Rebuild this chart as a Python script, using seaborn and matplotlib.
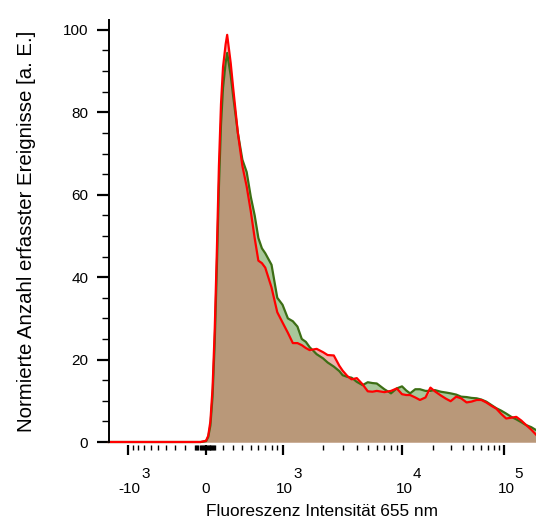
import numpy as np
import matplotlib
matplotlib.use("Agg")
import matplotlib.pyplot as plt
import matplotlib.ticker as mticker
from matplotlib.transforms import ScaledTranslation, blended_transform_factory, offset_copy
import seaborn as sns

# ---------------- data ----------------
intensity = [-3800, -2000, -1000, -500, -200, -100, -50, 0, 25, 50, 75, 100, 125, 150, 175,
             200, 225, 240, 275, 300, 350, 400, 450, 500, 550, 600, 650, 700, 800, 900,
             1000, 1100, 1200, 1300, 1400, 1500, 1600, 1800, 2000, 2200, 2500, 2800, 3000,
             3300, 3600, 4000, 4500, 5000, 5500, 6000, 7000, 8000, 9000, 10000, 11000,
             12000, 13500, 15000, 17000, 19000, 21000, 24000, 27000, 30000, 34000, 38000,
             43000, 48000, 54000, 60000, 67000, 75000, 84000, 94000, 105000, 118000,
             132000, 148000, 165000, 185000, 206000]

red_counts = [0, 0, 0, 0, 0, 0, 0, 0.3, 1.5, 5, 13, 27, 46, 67, 82,
              91, 96.5, 98.8, 92, 86, 75, 67, 62, 56, 49.5, 44, 43.4, 42.3, 37.5, 31.5,
              29, 26.5, 24, 24, 23.5, 22.8, 22.3, 22.6, 21.8, 21.1, 21, 18.5, 17.3,
              16, 15.2, 15.5, 14, 12.3, 12.2, 12.4, 12.1, 12.4, 13, 11.6, 11.4,
              11.4, 10.8, 10.2, 10.8, 13.2, 12.3, 11.3, 10.5, 9.9, 11, 10.6,
              9.6, 9.8, 10.2, 10.2, 9.6, 8.8, 8.1, 6.8, 5.7, 5.9,
              6.1, 5.2, 4.1, 3, 1.8]

green_counts = [0, 0, 0, 0, 0, 0, 0, 0.2, 1.2, 4, 11, 24, 42, 62, 77,
                86, 92, 94.4, 89, 84, 75, 68.5, 65.5, 59.5, 55, 49.5, 47, 45.8, 43, 35,
                33.3, 30, 29.3, 28, 25, 24.3, 23, 21.3, 20.3, 19.3, 18.3, 17.2, 16.2,
                15.8, 15.6, 14.6, 13.8, 14.5, 14.3, 14.2, 12.8, 11.8, 13, 13.5, 12.5,
                11.8, 12.8, 12.8, 12.4, 12.4, 12.6, 12.2, 12, 11.8, 11.5, 11,
                10.9, 10.7, 10.6, 10.3, 9.8, 9, 8.2, 7.6, 6.9, 6.1,
                5.5, 4.8, 4.1, 3.6, 2.9]

major_ticks = [-1000, 0, 1000, 10000, 100000]
major_labels = ["-10", "0", "10", "10", "10"]
major_exponents = ["3", "", "3", "4", "5"]
minor_ticks = (list(range(-900, 0, 100)) + list(range(-90, 0, 10)) + list(range(10, 100, 10))
               + list(range(100, 1000, 100)) + list(range(2000, 10000, 1000))
               + list(range(20000, 100000, 10000)))

# ---------------- biexponential-like display scale ----------------
_anchor_x = np.array([-1e6, -1e4, -1000, 0, 200, 1000, 2000, 1e4, 1e5, 1e6])
_anchor_u = np.array([40, 95, 127.5, 206, 223, 282.5, 323, 402, 504, 606])
_anchor_a = np.arcsinh(_anchor_x / 500.0)


def fwd(x):
    x = np.asarray(x, dtype=float)
    return np.interp(np.arcsinh(x / 500.0), _anchor_a, _anchor_u)


def inv(u):
    u = np.asarray(u, dtype=float)
    return 500.0 * np.sinh(np.interp(u, _anchor_u, _anchor_a))


# ---------------- style ----------------
plt.rcParams["font.family"] = ["Liberation Sans", "DejaVu Sans"]

fig = plt.figure(figsize=(5.36, 5.31), dpi=100)
ax = fig.add_axes([109 / 536, 89 / 531, 427 / 536, 422 / 531])
ax.set_xscale("function", functions=(fwd, inv))

x = np.array(intensity, dtype=float)
r = np.array(red_counts, dtype=float)
g = np.array(green_counts, dtype=float)

ax.fill_between(x, 0, g, color="#A9C79A", linewidth=0)
ax.fill_between(x, 0, r, color="#EDB3AE", linewidth=0)
ax.fill_between(x, 0, np.minimum(r, g), color="#B99879", linewidth=0)

sns.lineplot(x=x, y=g, ax=ax, color="#3C6E14", linewidth=1.6, sort=False,
             estimator=None, clip_on=False)
sns.lineplot(x=x, y=r, ax=ax, color="#FF0000", linewidth=1.6, sort=False,
             estimator=None, clip_on=False)

ax.set_xlim(-3800, 206000)
ax.set_ylim(0, 102.4)

for s in ("top", "right"):
    ax.spines[s].set_visible(False)
ax.spines["bottom"].set_color("none")
ax.spines["bottom"].set_position(("outward", 2))
ax.spines["left"].set_linewidth(1.4)

ax.xaxis.set_major_locator(mticker.FixedLocator(major_ticks))
ax.xaxis.set_major_formatter(mticker.FixedFormatter(major_labels))
ax.xaxis.set_minor_locator(mticker.FixedLocator(minor_ticks))
ax.xaxis.set_minor_formatter(mticker.NullFormatter())
ax.yaxis.set_major_locator(mticker.MultipleLocator(20))
ax.yaxis.set_minor_locator(mticker.MultipleLocator(5))

ax.tick_params(axis="x", which="major", length=7.5, width=1.6, pad=19.5, labelsize=11,
               color="black")
ax.tick_params(axis="x", which="minor", length=3.8, width=1.0, color="black")
ax.tick_params(axis="y", which="major", length=9, width=1.6, pad=6, labelsize=11)
ax.tick_params(axis="y", which="minor", length=4.8, width=1.0)

for lab in ax.get_xticklabels():
    if lab.get_text() != "0":
        lab.set_transform(lab.get_transform() + ScaledTranslation(2 / 100, 0, fig.dpi_scale_trans))

# exponents of the decade labels, drawn as raised text next to the "10"
blend = blended_transform_factory(ax.transData, ax.transAxes)
for t, lab, e in zip(major_ticks, major_labels, major_exponents):
    if e:
        dx = 10.2 if lab.startswith("-") else 7.8
        ax.text(t, 0, e, fontsize=11, ha="left", va="baseline",
                transform=offset_copy(blend, fig=fig, x=dx, y=-26, units="points"))

ax.set_xlabel("Fluoreszenz Intensität 655 nm", fontsize=12.4)
ax.xaxis.set_label_coords(0.5, -0.146)
ax.set_ylabel("Normierte Anzahl erfasster Ereignisse [a. E.]", fontsize=14.7)
ax.yaxis.set_label_coords(-0.171, 0.5)

fig.savefig("out.png", dpi=100)
